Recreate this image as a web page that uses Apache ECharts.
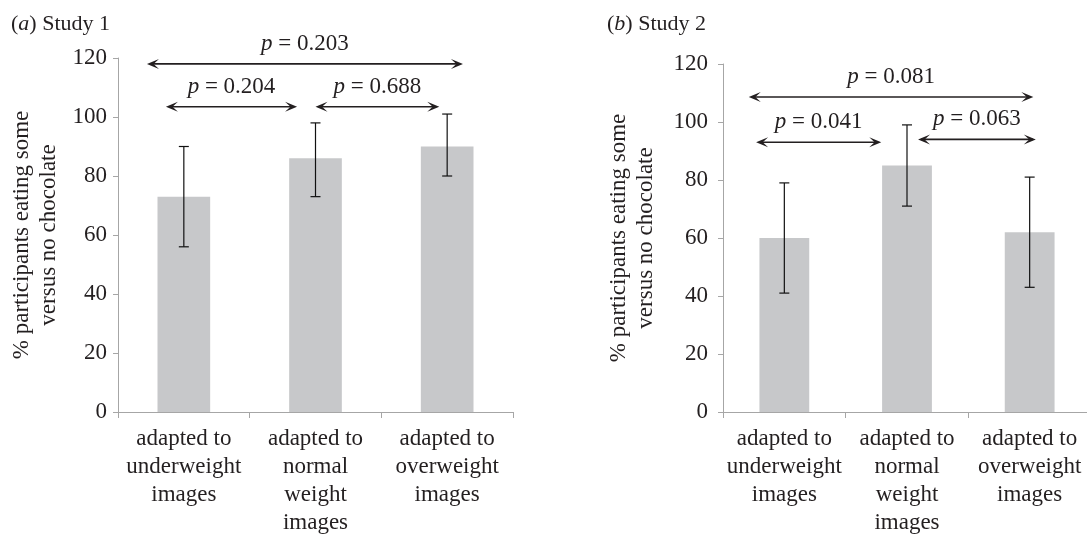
<!DOCTYPE html>
<html>
<head>
<meta charset="utf-8">
<script src="https://cdn.jsdelivr.net/npm/echarts@6/dist/echarts.min.js"></script>
<style>
html,body{margin:0;padding:0;background:#fff;}
#chart{width:1087px;height:534px;}
</style>
</head>
<body>
<div id="chart"></div>
<script>
// ---- data ----
var categories = ['adapted to\nunderweight\nimages', 'adapted to\nnormal\nweight\nimages', 'adapted to\noverweight\nimages'];
var study1Values = [73, 86, 90];
var study1Low = [56, 73, 80];
var study1High = [90, 98, 101];
var study2Values = [60, 85, 62];
var study2Low = [41, 71, 43];
var study2High = [79, 99, 81];
// comparisons: [from (category units), to, y value, label]
var study1Comparisons = [[-0.28, 2.12, 118, '0.203'], [-0.136, 0.86, 103.5, '0.204'], [1.0, 1.94, 103.5, '0.688']];
var study2Comparisons = [[-0.29, 2.03, 108.6, '0.081'], [-0.23, 0.79, 93, '0.041'], [1.09, 2.05, 94, '0.063']];
var yMin = 0, yMax = 120, yInterval = 20;
var panelTitles = ['a', 'b'];
var panelNames = ['Study 1', 'Study 2'];
var yAxisTitle = '% participants eating some\nversus no chocolate';

var FONT = '"Liberation Serif", "DejaVu Serif", serif';
var FS = 23;
var TXT = '#231f20';
var AXIS = '#a6a6a6';
var BAR = '#c7c8ca';

var chart = echarts.init(document.getElementById('chart'), null, {renderer: 'canvas'});

function errorRender(lowArr, highArr) {
  return function (params, api) {
    var i = api.value(0);
    var top = api.coord([i, highArr[i]]);
    var bot = api.coord([i, lowArr[i]]);
    var cap = 5;
    var st = {stroke: '#111', lineWidth: 1.2, fill: null};
    return {type: 'group', children: [
      {type: 'line', shape: {x1: top[0], y1: top[1], x2: bot[0], y2: bot[1]}, style: st},
      {type: 'line', shape: {x1: top[0] - cap, y1: top[1], x2: top[0] + cap, y2: top[1]}, style: st},
      {type: 'line', shape: {x1: bot[0] - cap, y1: bot[1], x2: bot[0] + cap, y2: bot[1]}, style: st}
    ]};
  };
}

function arrowRender(comps) {
  return function (params, api) {
    var c = comps[params.dataIndex];
    var a = api.coord([c[0], c[2]]);
    var b = api.coord([c[1], c[2]]);
    var y = a[1];
    var L = 12, W = 5, N = 0.55;
    var head1 = [[a[0], y], [a[0] + L, y - W], [a[0] + L * N, y], [a[0] + L, y + W]];
    var head2 = [[b[0], y], [b[0] - L, y - W], [b[0] - L * N, y], [b[0] - L, y + W]];
    return {type: 'group', children: [
      {type: 'line', shape: {x1: a[0] + 3, y1: y, x2: b[0] - 3, y2: y}, style: {stroke: TXT, lineWidth: 1.6}},
      {type: 'polygon', shape: {points: head1}, style: {fill: TXT}},
      {type: 'polygon', shape: {points: head2}, style: {fill: TXT}},
      {type: 'text', x: (a[0] + b[0]) / 2, y: y - 20, style: {
        text: '{i|p} = ' + c[3], fill: TXT, fontFamily: FONT, fontSize: FS,
        align: 'center', verticalAlign: 'middle',
        rich: {i: {fontStyle: 'italic', fontFamily: FONT, fontSize: FS, fill: TXT}}
      }}
    ]};
  };
}

var grids = [
  {left: 118, top: 58, width: 395, height: 354, outerBoundsMode: 'none', containLabel: false},
  {left: 723, top: 64, width: 368, height: 348, outerBoundsMode: 'none', containLabel: false}
];

var option = {
  animation: false,
  backgroundColor: '#fff',
  textStyle: {fontFamily: FONT},
  title: [
    {text: '({i|' + panelTitles[0] + '}) ' + panelNames[0], left: 6, top: 8,
     textStyle: {fontFamily: FONT, fontSize: 22, fontWeight: 'normal', color: TXT,
       rich: {i: {fontStyle: 'italic', fontFamily: FONT, fontSize: 22, color: TXT}}}},
    {text: '({i|' + panelTitles[1] + '}) ' + panelNames[1], left: 602, top: 8,
     textStyle: {fontFamily: FONT, fontSize: 22, fontWeight: 'normal', color: TXT,
       rich: {i: {fontStyle: 'italic', fontFamily: FONT, fontSize: 22, color: TXT}}}}
  ],
  grid: grids,
  xAxis: [0, 1].map(function (g) {
    return {
      type: 'category', gridIndex: g, data: categories,
      axisLine: {onZero: false, lineStyle: {color: AXIS, width: 1}},
      axisTick: {show: true, length: 6, lineStyle: {color: AXIS}},
      axisLabel: {color: TXT, fontFamily: FONT, fontSize: FS, lineHeight: 28, margin: 13, interval: 0}
    };
  }).concat([0, 1].map(function (g) {
    return {type: 'value', gridIndex: g, min: -0.5, max: 2.5, show: false};
  })),
  yAxis: [0, 1].map(function (g) {
    return {
      type: 'value', gridIndex: g, min: yMin, max: yMax, interval: yInterval,
      name: yAxisTitle, nameLocation: 'middle', nameGap: g === 0 ? 56 : 64, nameRotate: 90,
      nameTextStyle: {color: TXT, fontFamily: FONT, fontSize: FS, lineHeight: 27},
      axisLine: {show: true, onZero: false, lineStyle: {color: AXIS, width: 1}},
      axisTick: {show: true, length: 5, lineStyle: {color: AXIS}},
      splitLine: {show: false},
      axisLabel: {color: TXT, fontFamily: FONT, fontSize: FS, margin: g === 0 ? 11 : 15}
    };
  }),
  series: [
    {type: 'bar', xAxisIndex: 0, yAxisIndex: 0, data: study1Values, barWidth: '40%', itemStyle: {color: BAR}},
    {type: 'bar', xAxisIndex: 1, yAxisIndex: 1, data: study2Values, barWidth: '40.6%', itemStyle: {color: BAR}},
    {type: 'custom', xAxisIndex: 0, yAxisIndex: 0, data: study1Values.map(function (v, i) { return [i, v]; }),
     renderItem: errorRender(study1Low, study1High), z: 5},
    {type: 'custom', xAxisIndex: 1, yAxisIndex: 1, data: study2Values.map(function (v, i) { return [i, v]; }),
     renderItem: errorRender(study2Low, study2High), z: 5},
    {type: 'custom', xAxisIndex: 2, yAxisIndex: 0, data: study1Comparisons.map(function (c) { return [c[0], c[2]]; }),
     renderItem: arrowRender(study1Comparisons), z: 6, clip: false},
    {type: 'custom', xAxisIndex: 3, yAxisIndex: 1, data: study2Comparisons.map(function (c) { return [c[0], c[2]]; }),
     renderItem: arrowRender(study2Comparisons), z: 6, clip: false}
  ]
};
chart.setOption(option);
</script>
</body>
</html>
